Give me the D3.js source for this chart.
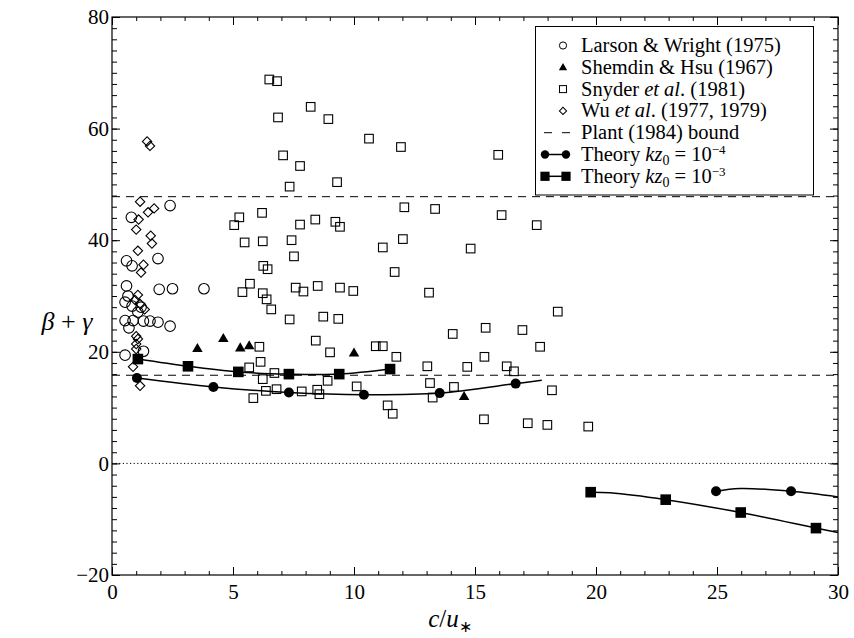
<!DOCTYPE html>
<html>
<head>
    <title>beta + gamma vs c/u*</title>
    <script src="https://d3js.org/d3.v7.min.js"></script>
    <style>
        body { margin: 0; background: #fff; }
        text { font-family: "Liberation Serif", "Times New Roman", serif; fill: #000; }
    </style>
</head>
<body>
    <svg id="chart"></svg>

    <script>

        // Larson & Wright (1975)
        var larsonX = [0.8, 2.4, 0.6, 0.83, 1.9, 0.6, 1.95, 2.5, 3.8, 0.66, 0.54, 0.83, 1.07, 1.3, 0.54, 0.87, 1.57, 1.9, 2.4, 0.7, 1.3, 0.54, 1.2];
        var larsonY = [44.1, 46.2, 36.3, 35.4, 36.7, 31.8, 31.2, 31.3, 31.3, 30.0, 28.9, 28.2, 27.1, 25.5, 25.6, 25.6, 25.5, 25.3, 24.6, 24.3, 20.1, 19.4, 28.0];

        // Shemdin & Hsu (1967)
        var shemdinX = [3.53, 4.6, 5.3, 5.67, 10.0, 14.55];
        var shemdinY = [20.5, 22.3, 20.6, 21.0, 19.7, 11.9];

        // Snyder et al. (1981)
        var snyderX = [6.5, 6.82, 8.21, 6.86, 8.94, 10.62, 11.94, 15.96, 7.07, 7.77, 7.34, 9.3,
                       12.08, 13.35, 16.1, 17.55, 5.26, 5.05, 6.2, 7.77, 8.4, 9.23, 9.42,
                       5.48, 6.23, 7.42, 11.19, 12.02, 14.82, 7.52, 6.25, 6.43, 11.68,
                       5.7, 5.39, 6.23, 6.39, 6.58, 7.59, 7.91, 8.5, 9.42, 9.97, 13.1, 18.42,
                       7.34, 8.73, 9.35, 14.08, 15.44, 16.96, 8.42, 9.01, 6.09, 10.9, 11.19, 11.75,
                       17.69, 6.14, 5.67, 6.71, 6.23, 8.91, 13.03, 14.68, 15.39, 16.31, 16.61,
                       6.36, 6.8, 7.84, 8.48, 8.57, 5.84, 10.11, 13.14, 14.13, 13.25, 18.18,
                       11.39, 11.6, 15.37, 17.18, 17.99, 19.68];
        var snyderY = [68.8, 68.5, 63.9, 62.0, 61.7, 58.2, 56.7, 55.3, 55.2, 53.3, 49.6, 50.4,
                       45.9, 45.6, 44.5, 42.7, 44.1, 42.7, 44.9, 42.8, 43.7, 43.3, 42.4,
                       39.6, 39.8, 40.0, 38.7, 40.2, 38.5, 37.1, 35.4, 34.8, 34.3,
                       32.2, 30.7, 30.5, 29.4, 27.6, 31.5, 30.8, 31.8, 31.5, 30.9, 30.6, 27.2,
                       25.8, 26.3, 25.9, 23.2, 24.3, 23.9, 22.0, 19.9, 20.9, 21.0, 21.0, 19.1,
                       20.9, 18.2, 17.2, 16.2, 15.1, 14.8, 17.4, 17.3, 19.1, 17.4, 16.5,
                       13.0, 13.3, 12.9, 13.2, 12.4, 11.7, 13.8, 14.4, 13.7, 11.8, 13.1,
                       10.4, 8.9, 7.9, 7.2, 6.9, 6.6];

        // Wu et al. (1977, 1979)
        var wuX = [1.45, 1.57, 1.16, 1.49, 1.74, 1.1, 1.0, 1.6, 1.65, 1.07, 1.3, 1.2, 1.07, 0.95, 1.15, 1.35, 1.0, 1.07, 1.0, 1.0, 0.87, 1.16];
        var wuY = [57.7, 56.9, 46.9, 45.0, 45.7, 43.7, 41.9, 40.8, 39.4, 38.1, 35.6, 34.2, 30.2, 29.3, 28.6, 27.6, 22.8, 22.3, 21.4, 20.5, 17.3, 13.9];

        // Plant (1984) bounds
        var plantBounds = [47.8, 15.8];

        // Theory kz0 = 1e-4 : markers and curve points, two branches
        var th4MarkX = [1.03, 4.19, 7.31, 10.41, 13.54, 16.68, 24.96, 28.06];
        var th4MarkY = [15.3, 13.7, 12.7, 12.3, 12.6, 14.3, -5.0, -5.0];
        var th4LeftX = [1.03, 4.19, 7.31, 10.41, 13.54, 16.68, 17.76];
        var th4LeftY = [15.3, 13.7, 12.7, 12.3, 12.6, 14.3, 14.9];
        var th4RightX = [24.96, 25.95, 28.06, 30.0];
        var th4RightY = [-5.0, -4.5, -5.0, -6.0];

        // Theory kz0 = 1e-3
        var th3MarkX = [1.07, 3.14, 5.22, 7.31, 9.39, 11.49, 19.78, 22.88, 25.98, 29.09];
        var th3MarkY = [18.7, 17.4, 16.4, 16.0, 16.0, 16.9, -5.16, -6.5, -8.8, -11.6];
        var th3LeftX = [1.07, 3.14, 5.22, 7.31, 9.39, 11.49];
        var th3LeftY = [18.7, 17.4, 16.4, 16.0, 16.0, 16.9];
        var th3RightX = [19.78, 20.58, 22.88, 25.98, 29.09, 30.0];
        var th3RightY = [-5.16, -5.27, -6.5, -8.8, -11.6, -12.4];

        var xTicks = [0, 5, 10, 15, 20, 25, 30];
        var yTicks = [-20, 0, 20, 40, 60, 80];

        var width = 854;
        var height = 638;
        var margin = {top: 17, right: 16, bottom: 63, left: 112};

        var svg = d3.select("#chart")
                    .attr("width", width)
                    .attr("height", height);

        var x = d3.scaleLinear().domain([0, 30]).range([margin.left, width - margin.right]);
        var y = d3.scaleLinear().domain([-20, 80]).range([height - margin.bottom, margin.top]);

        function zip(xs, ys) {
            return xs.map(function(d, i) { return [d, ys[i]]; });
        }

        // reference lines
        svg.selectAll(".plant")
            .data(plantBounds)
            .enter().append("line")
            .attr("x1", x(0)).attr("x2", x(30))
            .attr("y1", function(d) { return y(d); })
            .attr("y2", function(d) { return y(d); })
            .attr("stroke", "#000").attr("stroke-width", 1)
            .attr("stroke-dasharray", "8,6");

        svg.append("line")
            .attr("x1", x(0)).attr("x2", x(30))
            .attr("y1", y(0)).attr("y2", y(0))
            .attr("stroke", "#000").attr("stroke-width", 1)
            .attr("stroke-dasharray", "1.2,2.4");

        // axes, ticks inward on all four sides
        var minorX = d3.range(0, 31, 1);
        var minorY = d3.range(-20, 81, 2);

        function ticks(axis, vals, size, fmt) {
            return axis.tickValues(vals).tickSizeInner(size).tickSizeOuter(0).tickFormat(fmt);
        }

        var gx = svg.append("g").attr("transform", "translate(0," + y(-20) + ")");
        gx.append("g").call(ticks(d3.axisBottom(x), minorX, -4, ""));
        gx.append("g").call(ticks(d3.axisBottom(x), xTicks, -8, d3.format("d")));

        var gxt = svg.append("g").attr("transform", "translate(0," + y(80) + ")");
        gxt.append("g").call(ticks(d3.axisTop(x), minorX, -4, ""));
        gxt.append("g").call(ticks(d3.axisTop(x), xTicks, -8, ""));

        var gy = svg.append("g").attr("transform", "translate(" + x(0) + ",0)");
        gy.append("g").call(ticks(d3.axisLeft(y), minorY, -5, ""));
        gy.append("g").call(ticks(d3.axisLeft(y), yTicks, -8, function(d) { return d < 0 ? "\u2212" + (-d) : d; }));

        var gyr = svg.append("g").attr("transform", "translate(" + x(30) + ",0)");
        gyr.append("g").call(ticks(d3.axisRight(y), minorY, -5, ""));
        gyr.append("g").call(ticks(d3.axisRight(y), yTicks, -8, ""));

        svg.selectAll(".domain").remove();
        svg.selectAll(".tick line").attr("stroke", "#000").attr("stroke-width", 1);
        svg.selectAll(".tick text")
            .style("font-family", "'Liberation Serif', serif")
            .style("font-size", "21px")
            .attr("fill", "#000");
        gx.selectAll(".tick text").attr("y", 6).attr("dy", "0.85em");
        gy.selectAll(".tick text").attr("x", -3);

        svg.append("rect")
            .attr("x", x(0)).attr("y", y(80))
            .attr("width", x(30) - x(0)).attr("height", y(-20) - y(80))
            .attr("fill", "none").attr("stroke", "#000").attr("stroke-width", 1.2);

        // theory curves
        var line = d3.line()
            .x(function(d) { return x(d[0]); })
            .y(function(d) { return y(d[1]); })
            .curve(d3.curveCatmullRom.alpha(0.5));

        [zip(th4LeftX, th4LeftY), zip(th4RightX, th4RightY), zip(th3LeftX, th3LeftY), zip(th3RightX, th3RightY)]
            .forEach(function(pts) {
                svg.append("path").attr("d", line(pts))
                    .attr("fill", "none").attr("stroke", "#000").attr("stroke-width", 1.5);
            });

        // data markers
        var marks = svg.append("g");

        marks.selectAll(".larson")
            .data(zip(larsonX, larsonY))
            .enter().append("circle")
            .attr("cx", function(d) { return x(d[0]); })
            .attr("cy", function(d) { return y(d[1]); })
            .attr("r", 5.3)
            .attr("fill", "none").attr("stroke", "#000").attr("stroke-width", 1.1);

        marks.selectAll(".snyder")
            .data(zip(snyderX, snyderY))
            .enter().append("rect")
            .attr("x", function(d) { return x(d[0]) - 4.3; })
            .attr("y", function(d) { return y(d[1]) - 4.3; })
            .attr("width", 8.6).attr("height", 8.6)
            .attr("fill", "none").attr("stroke", "#000").attr("stroke-width", 1.1);

        marks.selectAll(".wu")
            .data(zip(wuX, wuY))
            .enter().append("path")
            .attr("d", d3.symbol().type(d3.symbolSquare).size(44))
            .attr("transform", function(d) { return "translate(" + x(d[0]) + "," + y(d[1]) + ") rotate(45)"; })
            .attr("fill", "none").attr("stroke", "#000").attr("stroke-width", 1.1);

        marks.selectAll(".shemdin")
            .data(zip(shemdinX, shemdinY))
            .enter().append("path")
            .attr("d", d3.symbol().type(d3.symbolTriangle).size(48))
            .attr("transform", function(d) { return "translate(" + x(d[0]) + "," + y(d[1]) + ")"; })
            .attr("fill", "#000");

        marks.selectAll(".th4")
            .data(zip(th4MarkX, th4MarkY))
            .enter().append("circle")
            .attr("cx", function(d) { return x(d[0]); })
            .attr("cy", function(d) { return y(d[1]); })
            .attr("r", 5)
            .attr("fill", "#000");

        marks.selectAll(".th3")
            .data(zip(th3MarkX, th3MarkY))
            .enter().append("rect")
            .attr("x", function(d) { return x(d[0]) - 5.3; })
            .attr("y", function(d) { return y(d[1]) - 5.3; })
            .attr("width", 10.6).attr("height", 10.6)
            .attr("fill", "#000");

        // legend
        var lg = svg.append("g");
        lg.append("rect")
            .attr("x", 535.5).attr("y", 26.5).attr("width", 278).attr("height", 168.5)
            .attr("fill", "#fff").attr("stroke", "#000").attr("stroke-width", 1);

        var rowY = d3.range(7).map(function(i) { return 45.5 + i * 21.8; });
        var mx = 563;

        lg.append("circle").attr("cx", mx).attr("cy", rowY[0]).attr("r", 3.6)
            .attr("fill", "none").attr("stroke", "#000").attr("stroke-width", 1);
        lg.append("path").attr("d", d3.symbol().type(d3.symbolTriangle).size(30))
            .attr("transform", "translate(" + mx + "," + (rowY[1] + 0.5) + ")").attr("fill", "#000");
        lg.append("rect").attr("x", mx - 3.5).attr("y", rowY[2] - 3.5).attr("width", 7).attr("height", 7)
            .attr("fill", "none").attr("stroke", "#000").attr("stroke-width", 1);
        lg.append("path").attr("d", d3.symbol().type(d3.symbolSquare).size(26))
            .attr("transform", "translate(" + mx + "," + rowY[3] + ") rotate(45)")
            .attr("fill", "none").attr("stroke", "#000").attr("stroke-width", 1);
        lg.append("line").attr("x1", 544).attr("x2", 570).attr("y1", rowY[4]).attr("y2", rowY[4])
            .attr("stroke", "#000").attr("stroke-width", 1).attr("stroke-dasharray", "8,10");
        lg.append("line").attr("x1", 545).attr("x2", 566).attr("y1", rowY[5]).attr("y2", rowY[5])
            .attr("stroke", "#000").attr("stroke-width", 1.5);
        lg.selectAll(".lc").data([545, 566]).enter().append("circle")
            .attr("cx", function(d) { return d; }).attr("cy", rowY[5]).attr("r", 4.2).attr("fill", "#000");
        lg.append("line").attr("x1", 545).attr("x2", 566).attr("y1", rowY[6]).attr("y2", rowY[6])
            .attr("stroke", "#000").attr("stroke-width", 1.5);
        lg.selectAll(".ls").data([545, 566]).enter().append("rect")
            .attr("x", function(d) { return d - 4.6; }).attr("y", rowY[6] - 4.6)
            .attr("width", 9.2).attr("height", 9.2).attr("fill", "#000");

        var labels = [
            [["Larson & Wright (1975)", ""]],
            [["Shemdin & Hsu (1967)", ""]],
            [["Snyder ", ""], ["et al", "i"], [". (1981)", ""]],
            [["Wu ", ""], ["et al", "i"], [". (1977, 1979)", ""]],
            [["Plant (1984) bound", ""]],
            [["Theory ", ""], ["kz", "i"], ["0", "sub"], [" = 10", "base"], ["\u22124", "sup"]],
            [["Theory ", ""], ["kz", "i"], ["0", "sub"], [" = 10", "base"], ["\u22123", "sup"]]
        ];

        labels.forEach(function(parts, i) {
            var t = lg.append("text")
                .attr("x", 581).attr("y", rowY[i] + 6.5)
                .style("font-size", "20.5px");
            parts.forEach(function(p) {
                var s = t.append("tspan").text(p[0]);
                if (p[1] === "i") s.style("font-style", "italic");
                if (p[1] === "sub") s.attr("dy", 4).style("font-size", "14px");
                if (p[1] === "base") s.attr("dy", -4);
                if (p[1] === "sup") s.attr("dy", -7).style("font-size", "13px");
            });
        });

        // axis titles
        var yt = svg.append("text").attr("x", 67).attr("y", 330)
            .attr("text-anchor", "middle").style("font-size", "26px");
        yt.append("tspan").text("\u03b2").style("font-style", "italic");
        yt.append("tspan").text(" + ");
        yt.append("tspan").text("\u03b3").style("font-style", "italic");

        var xt = svg.append("text").attr("x", 450).attr("y", 627)
            .attr("text-anchor", "middle").style("font-size", "25px");
        xt.append("tspan").text("c").style("font-style", "italic");
        xt.append("tspan").text("/");
        xt.append("tspan").text("u").style("font-style", "italic");
        xt.append("tspan").text("\u2217").attr("dy", 5).style("font-size", "16px");

    </script>

</body>
</html>
